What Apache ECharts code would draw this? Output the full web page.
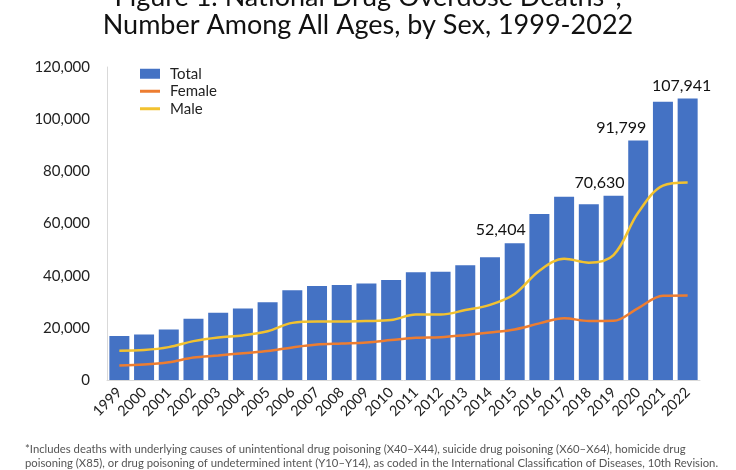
<!DOCTYPE html>
<html>
<head>
<meta charset="utf-8">
<script src="https://cdn.jsdelivr.net/npm/echarts@6/dist/echarts.min.js"></script>
<style>
html,body{margin:0;padding:0;background:#fff;}
#chart{width:736px;height:470px;}
</style>
</head>
<body>
<div id="chart"></div>
<script>
var years = ['1999','2000','2001','2002','2003','2004','2005','2006','2007','2008','2009','2010','2011','2012','2013','2014','2015','2016','2017','2018','2019','2020','2021','2022'];
var total = [16849, 17415, 19394, 23518, 25785, 27424, 29813, 34425, 36010, 36450, 37004, 38329, 41340, 41502, 43982, 47055, 52404, 63632, 70237, 67367, 70630, 91799, 106699, 107941];
var female = [5591, 5900, 6800, 8600, 9400, 10300, 11100, 12500, 13600, 14000, 14400, 15300, 16200, 16400, 17200, 18200, 19400, 21700, 23700, 22600, 22700, 27600, 32300, 32400];
var male = [11258, 11500, 12600, 14900, 16300, 17100, 18700, 21900, 22400, 22400, 22600, 23000, 25100, 25100, 26800, 28800, 33000, 41900, 46500, 45000, 47900, 64200, 74500, 75700];
var labelledYears = ['2015', '2019', '2020', '2022'];
var titleLines = ['Figure 1. National Drug Overdose Deaths*,', 'Number Among All Ages, by Sex, 1999-2022'];
var footnoteLines = [
  '*Includes deaths with underlying causes of unintentional drug poisoning (X40\u2013X44), suicide drug poisoning (X60\u2013X64), homicide drug',
  'poisoning (X85), or drug poisoning of undetermined intent (Y10\u2013Y14), as coded in the International Classification of Diseases, 10th Revision.'
];

var FONT = 'Lato, "Open Sans", sans-serif';
function fmt(v){ return String(v).replace(/\B(?=(\d{3})+(?!\d))/g, ','); }

var labelOffsets = {'2015':[-14,0], '2019':[-14,0], '2020':[-17,0], '2022':[-6,0]};
var totalData = total.map(function(v, i){
  var y = years[i];
  if (labelledYears.indexOf(y) >= 0) {
    return {value: v, label: {show: true, position: 'top', distance: 5, offset: labelOffsets[y],
      formatter: function(p){ return fmt(p.value); }, fontSize: 16, color: '#111', fontFamily: FONT}};
  }
  return v;
});

var lineIcon = 'path://M0,0H20V3H0Z';

var chart = echarts.init(document.getElementById('chart'), null, {renderer: 'canvas'});
chart.setOption({
  animation: false,
  backgroundColor: '#ffffff',
  textStyle: {fontFamily: FONT},
  grid: {left: 107, right: 36, top: 67, bottom: 90, containLabel: false},
  legend: {
    orient: 'vertical', left: 135, top: 60, itemWidth: 20, itemHeight: 10, itemGap: 0,
    textStyle: {fontSize: 15, lineHeight: 17.5, color: '#222', fontFamily: FONT, padding: [0,0,0,5]},
    data: [{name: 'Total', icon: 'rect'}, {name: 'Female', icon: lineIcon}, {name: 'Male', icon: lineIcon}]
  },
  xAxis: {
    type: 'category', data: years,
    axisLine: {show: true, lineStyle: {color: '#d9d9d9'}},
    axisTick: {show: false},
    axisLabel: {rotate: 45, fontSize: 14.5, color: '#222', margin: 10, interval: 0, fontFamily: FONT}
  },
  yAxis: {
    type: 'value', min: 0, max: 120000, interval: 20000,
    axisLine: {show: true, lineStyle: {color: '#d9d9d9'}},
    axisTick: {show: false},
    splitLine: {show: false},
    axisLabel: {fontSize: 15, color: '#222', margin: 17, fontFamily: FONT, formatter: function(v){ return fmt(v); }}
  },
  series: [
    {name: 'Total', type: 'bar', data: totalData, barWidth: 20, itemStyle: {color: '#4472C4'}},
    {name: 'Female', type: 'line', data: female, smooth: 0.35, symbol: 'none', lineStyle: {color: '#ED7D31', width: 2.5}, itemStyle: {color: '#ED7D31'}},
    {name: 'Male', type: 'line', data: male, smooth: 0.35, symbol: 'none', lineStyle: {color: '#F2C230', width: 2.5}, itemStyle: {color: '#F2C230'}}
  ],
  graphic: [
    {type: 'text', left: 'center', top: -16, style: {text: titleLines[0], font: '27px ' + FONT, fill: '#111'}},
    {type: 'text', left: 'center', top: 12, style: {text: titleLines[1], font: '27px ' + FONT, fill: '#111'}},
    {type: 'text', left: 25, top: 444, style: {text: footnoteLines[0], font: '11.3px ' + FONT, fill: '#555'}},
    {type: 'text', left: 25, top: 458, style: {text: footnoteLines[1], font: '11.3px ' + FONT, fill: '#555'}}
  ]
});
</script>
</body>
</html>
